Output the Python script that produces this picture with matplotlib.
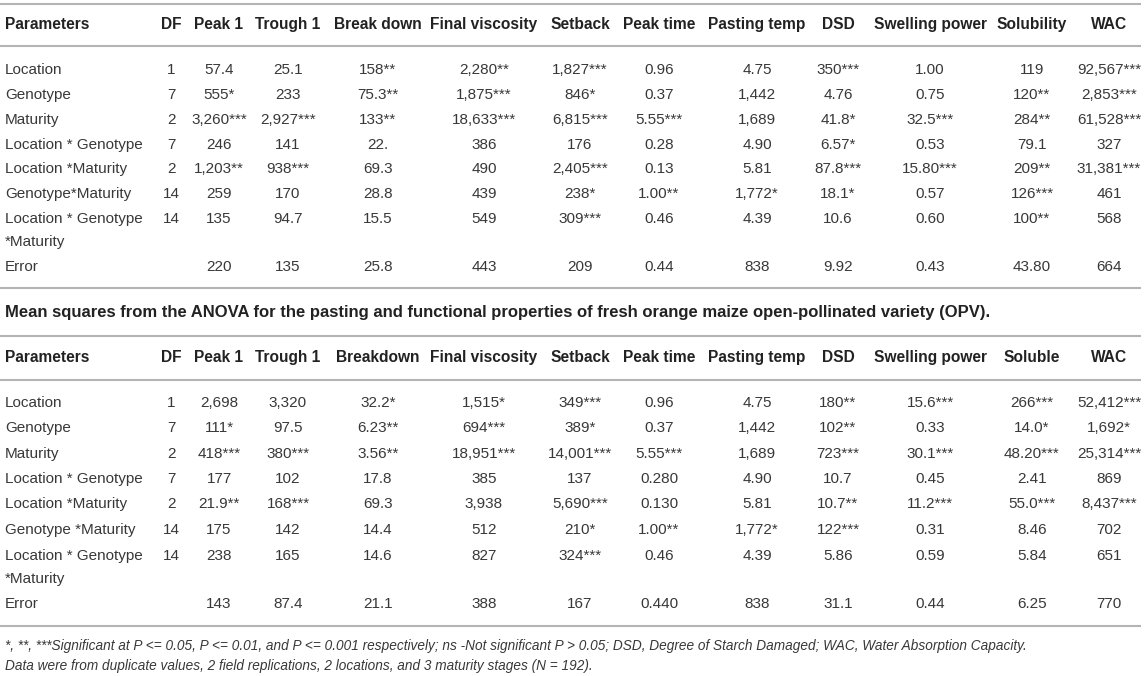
import matplotlib
matplotlib.use("Agg")
import matplotlib.pyplot as plt

# ---- table data ----
sources_1 = ["Location", "Genotype", "Maturity", "Location * Genotype", "Location *Maturity",
             "Genotype*Maturity", "Location * Genotype\n*Maturity", "Error"]
sources_2 = ["Location", "Genotype", "Maturity", "Location * Genotype", "Location *Maturity",
             "Genotype *Maturity", "Location * Genotype\n*Maturity", "Error"]
df_values = ["1", "7", "2", "7", "2", "14", "14", ""]

headers_1 = ["Parameters", "DF", "Peak 1", "Trough 1", "Break down", "Final viscosity", "Setback",
             "Peak time", "Pasting temp", "DSD", "Swelling power", "Solubility", "WAC"]
headers_2 = ["Parameters", "DF", "Peak 1", "Trough 1", "Breakdown", "Final viscosity", "Setback",
             "Peak time", "Pasting temp", "DSD", "Swelling power", "Soluble", "WAC"]

peak1_1 = ["57.4", "555*", "3,260***", "246", "1,203**", "259", "135", "220"]
trough1_1 = ["25.1", "233", "2,927***", "141", "938***", "170", "94.7", "135"]
breakdown_1 = ["158**", "75.3**", "133**", "22.", "69.3", "28.8", "15.5", "25.8"]
final_visc_1 = ["2,280**", "1,875***", "18,633***", "386", "490", "439", "549", "443"]
setback_1 = ["1,827***", "846*", "6,815***", "176", "2,405***", "238*", "309***", "209"]
peak_time_1 = ["0.96", "0.37", "5.55***", "0.28", "0.13", "1.00**", "0.46", "0.44"]
pasting_temp_1 = ["4.75", "1,442", "1,689", "4.90", "5.81", "1,772*", "4.39", "838"]
dsd_1 = ["350***", "4.76", "41.8*", "6.57*", "87.8***", "18.1*", "10.6", "9.92"]
swelling_1 = ["1.00", "0.75", "32.5***", "0.53", "15.80***", "0.57", "0.60", "0.43"]
solubility_1 = ["119", "120**", "284**", "79.1", "209**", "126***", "100**", "43.80"]
wac_1 = ["92,567***", "2,853***", "61,528***", "327", "31,381***", "461", "568", "664"]

peak1_2 = ["2,698", "111*", "418***", "177", "21.9**", "175", "238", "143"]
trough1_2 = ["3,320", "97.5", "380***", "102", "168***", "142", "165", "87.4"]
breakdown_2 = ["32.2*", "6.23**", "3.56**", "17.8", "69.3", "14.4", "14.6", "21.1"]
final_visc_2 = ["1,515*", "694***", "18,951***", "385", "3,938", "512", "827", "388"]
setback_2 = ["349***", "389*", "14,001***", "137", "5,690***", "210*", "324***", "167"]
peak_time_2 = ["0.96", "0.37", "5.55***", "0.280", "0.130", "1.00**", "0.46", "0.440"]
pasting_temp_2 = ["4.75", "1,442", "1,689", "4.90", "5.81", "1,772*", "4.39", "838"]
dsd_2 = ["180**", "102**", "723***", "10.7", "10.7**", "122***", "5.86", "31.1"]
swelling_2 = ["15.6***", "0.33", "30.1***", "0.45", "11.2***", "0.31", "0.59", "0.44"]
soluble_2 = ["266***", "14.0*", "48.20***", "2.41", "55.0***", "8.46", "5.84", "6.25"]
wac_2 = ["52,412***", "1,692*", "25,314***", "869", "8,437***", "702", "651", "770"]

caption = ("Mean squares from the ANOVA for the pasting and functional properties of fresh "
           "orange maize open-pollinated variety (OPV).")
footnotes = [
    "*, **, ***Significant at P <= 0.05, P <= 0.01, and P <= 0.001 respectively; ns -Not "
    "significant P > 0.05; DSD, Degree of Starch Damaged; WAC, Water Absorption Capacity.",
    "Data were from duplicate values, 2 field replications, 2 locations, and 3 maturity stages (N = 192).",
]

# ---- layout (pixel coordinates, y grows downward) ----
W, H = 1145, 676
FONT = "Liberation Sans"
TEXT_C = "#383838"
HEAD_C = "#222222"
RULE_C = "#b4b4b4"
BODY_FS = 11
HEAD_FS = 11.2
CAPTION_FS = 12.0
FOOT_FS = 9.8
BASE_DY = 5  # row y is the visual middle; text sits on a whole-pixel baseline below it
COL_X = [5, 171, 219, 288, 378, 484, 580, 659, 757, 838, 930, 1032, 1109]


def rule(ax, y):
    ax.plot([0, 1141], [y, y], color=RULE_C, lw=1.5, solid_capstyle="butt")


def cell(ax, x, y, s, ha="center", **kw):
    ax.text(x, y + BASE_DY, s, ha=ha, va="baseline", family=FONT, **kw)


def draw_table(ax, headers, sources, columns, y_head, y_rows, y_cont):
    for i, h in enumerate(headers):
        cell(ax, COL_X[i], y_head, h, ha="left" if i == 0 else "center",
             fontsize=HEAD_FS, fontweight="bold", color=HEAD_C)
    for r, src in enumerate(sources):
        y = y_rows[r]
        parts = src.split("\n")
        cell(ax, COL_X[0], y, parts[0], ha="left", fontsize=BODY_FS, color=TEXT_C)
        if len(parts) > 1:
            cell(ax, COL_X[0], y_cont, parts[1], ha="left", fontsize=BODY_FS, color=TEXT_C)
        cell(ax, COL_X[1], y, df_values[r], fontsize=BODY_FS, color=TEXT_C)
        for c, col in enumerate(columns):
            cell(ax, COL_X[c + 2], y, col[r], fontsize=BODY_FS, color=TEXT_C)


fig = plt.figure(figsize=(W / 100, H / 100), dpi=100)
ax = fig.add_axes([0, 0, 1, 1])
ax.set_xlim(0, W)
ax.set_ylim(H, 0)
ax.axis("off")

cols_1 = [peak1_1, trough1_1, breakdown_1, final_visc_1, setback_1, peak_time_1,
          pasting_temp_1, dsd_1, swelling_1, solubility_1, wac_1]
cols_2 = [peak1_2, trough1_2, breakdown_2, final_visc_2, setback_2, peak_time_2,
          pasting_temp_2, dsd_2, swelling_2, soluble_2, wac_2]

# first table
rule(ax, 4)
rule(ax, 46)
draw_table(ax, headers_1, sources_1, cols_1, 24,
           [69, 94, 119, 144, 168, 193, 218, 266], 241)
rule(ax, 288)

# caption + second table
cell(ax, 5, 312, caption, ha="left", fontsize=CAPTION_FS, fontweight="bold", color=HEAD_C)
rule(ax, 336)
draw_table(ax, headers_2, sources_2, cols_2, 357,
           [402, 427, 453, 478, 503, 529, 555, 603], 578)
rule(ax, 380)
rule(ax, 626)

for k, line in enumerate(footnotes):
    cell(ax, 5, 645 + 20 * k, line, ha="left", fontsize=FOOT_FS, style="italic", color=TEXT_C)

fig.savefig("out.png", dpi=100)
